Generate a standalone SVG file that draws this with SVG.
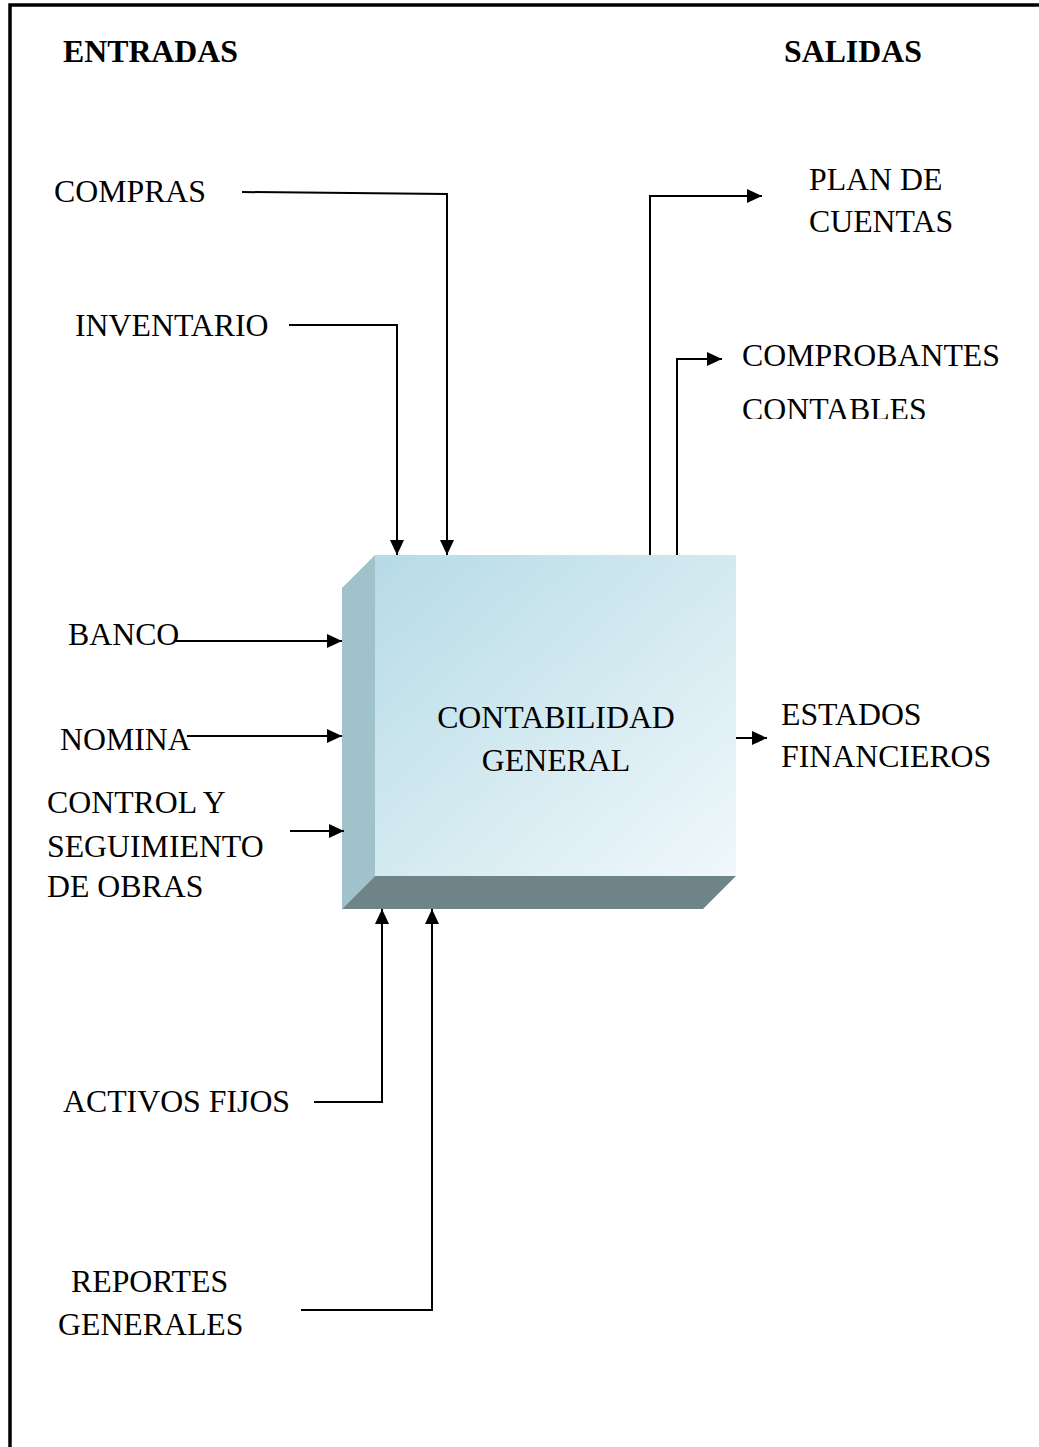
<svg xmlns="http://www.w3.org/2000/svg" width="1039" height="1447" viewBox="0 0 1039 1447">
<style>
text{font-family:"Liberation Serif","Times New Roman",serif;font-size:31.8px;fill:#000}
.b{font-weight:bold}
.c{stroke:#000;stroke-width:2;fill:none}
</style>
<defs>
<marker id="a" viewBox="0 0 15 14" refX="15" refY="7" markerWidth="15" markerHeight="14" orient="auto" markerUnits="userSpaceOnUse">
<path d="M0,0 L15,7 L0,14 z" fill="#000"/>
</marker>
<linearGradient id="g" x1="0" y1="0" x2="1" y2="1">
<stop offset="0" stop-color="#B6DBE6"/>
<stop offset="1" stop-color="#F0F8FB"/>
</linearGradient>
<clipPath id="cl"><rect x="0" y="0" width="1039" height="419"/></clipPath>
</defs>
<rect width="1039" height="1447" fill="#fff"/>
<g id="frame">
<path d="M10,1447 V5 H1039" stroke="#000" stroke-width="3.5" fill="none"/>
</g>
<g id="headers">
<text class="b" x="63" y="62">ENTRADAS</text>
<text class="b" x="784" y="62">SALIDAS</text>
</g>
<g id="contabilidad">
<polygon points="342,588 375,555 375,876 342,909" fill="#A0C3CB"/>
<polygon points="342,909 375,876 736,876 703,909" fill="#6E8489"/>
<rect x="375" y="555" width="361" height="321" fill="url(#g)"/>
<text x="556" y="728" text-anchor="middle">CONTABILIDAD</text>
<text x="556" y="771" text-anchor="middle">GENERAL</text>
</g>
<g id="compras"><text x="54" y="202">COMPRAS</text></g>
<g id="inventario"><text x="75" y="336">INVENTARIO</text></g>
<g id="banco"><text x="68" y="645">BANCO</text></g>
<g id="nomina"><text x="60" y="750">NOMINA</text></g>
<g id="control"><text x="47" y="813">CONTROL Y</text><text x="47" y="857">SEGUIMIENTO</text><text x="47" y="897">DE OBRAS</text></g>
<g id="activos"><text x="63" y="1112">ACTIVOS FIJOS</text></g>
<g id="reportes"><text x="71" y="1292">REPORTES</text><text x="58" y="1335">GENERALES</text></g>
<g id="plan"><text x="809" y="190">PLAN DE</text><text x="809" y="232">CUENTAS</text></g>
<g id="comprobantes"><text x="742" y="366">COMPROBANTES</text><text x="742" y="420" clip-path="url(#cl)">CONTABLES</text></g>
<g id="estados"><text x="781" y="725">ESTADOS</text><text x="781" y="767">FINANCIEROS</text></g>
<g id="connectors">
<polyline class="c" points="242,192 447,194 447,555" marker-end="url(#a)"/>
<polyline class="c" points="289,325 397,325 397,555" marker-end="url(#a)"/>
<line class="c" x1="174" y1="641" x2="342" y2="641" marker-end="url(#a)"/>
<line class="c" x1="187" y1="736" x2="342" y2="736" marker-end="url(#a)"/>
<line class="c" x1="290" y1="831" x2="344" y2="831" marker-end="url(#a)"/>
<polyline class="c" points="314,1102 382,1102 382,909" marker-end="url(#a)"/>
<polyline class="c" points="301,1310 432,1310 432,909" marker-end="url(#a)"/>
<polyline class="c" points="650,555 650,196 762,196" marker-end="url(#a)"/>
<polyline class="c" points="677,555 677,359 722,359" marker-end="url(#a)"/>
<line class="c" x1="736" y1="738" x2="767" y2="738" marker-end="url(#a)"/>
</g>
</svg>
